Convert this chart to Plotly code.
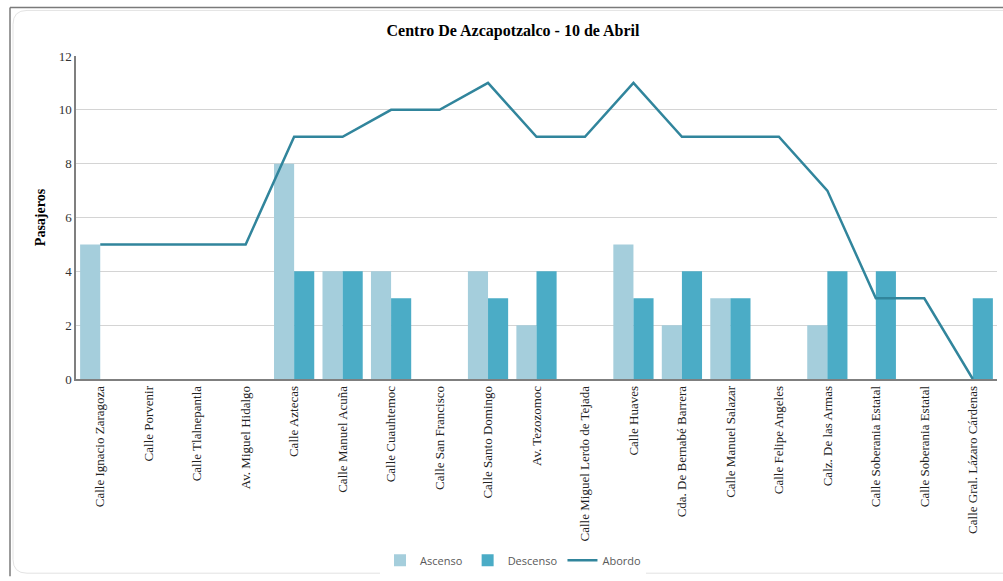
import plotly.graph_objects as go

paradas = ['Calle Ignacio Zaragoza', 'Calle Porvenir', 'Calle Tlalnepantla', 'Av. Miguel Hidalgo',
           'Calle Aztecas', 'Calle Manuel Acuña', 'Calle Cuauhtemoc', 'Calle San Francisco',
           'Calle Santo Domingo', 'Av. Tezozomoc', 'Calle Miguel Lerdo de Tejada', 'Calle Huaves',
           'Cda. De Bernabé Barrera', 'Calle Manuel Salazar', 'Calle Felipe Angeles', 'Calz. De las Armas',
           'Calle Soberania Estatal', 'Calle Soberania Estatal', 'Calle Gral. Lázaro Cárdenas']
ascenso = [5, 0, 0, 0, 8, 4, 4, 0, 4, 2, 0, 5, 2, 3, 0, 2, 0, 0, 0]
descenso = [0, 0, 0, 0, 4, 4, 3, 0, 3, 4, 0, 3, 4, 3, 0, 4, 4, 0, 3]
abordo = [5, 5, 5, 5, 9, 9, 10, 10, 11, 9, 9, 11, 9, 9, 9, 7, 3, 3, 0]
y_ticks = [0, 2, 4, 6, 8, 10, 12]

# numeric positions because one stop name repeats
pos = list(range(len(paradas)))

# plot box in pixels, used to put the frame lines in paper units
L, R, T, B = 76, 997, 56, 382
W, H = R - L, B - T


def px_x(v):
    return (v - L) / W


def px_y(v):
    return (B - v) / H


fig = go.Figure()
fig.add_trace(go.Bar(x=pos, y=ascenso, name='Ascenso', marker=dict(color='#a5cedc', line=dict(width=0))))
fig.add_trace(go.Bar(x=pos, y=descenso, name='Descenso', marker=dict(color='#4bacc6', line=dict(width=0))))
fig.add_trace(go.Scatter(x=pos, y=abordo, name='Abordo', mode='lines', line=dict(color='#31859c', width=2.5)))

serif = 'Liberation Serif, Times New Roman, serif'
fig.update_layout(
    width=1003, height=581,
    margin=dict(l=L, r=1003 - R, t=T, b=581 - B),
    paper_bgcolor='white', plot_bgcolor='white',
    barmode='group', bargap=0.17, bargroupgap=0,
    title=dict(text='<b>Centro De Azcapotzalco - 10 de Abril</b>', x=513 / 1003, xref='container', xanchor='center',
               y=1 - 30 / 581, yref='container', yanchor='middle', font=dict(family=serif, size=16, color='black')),
    font=dict(family=serif, size=13, color='#333333'),
    legend=dict(orientation='h', x=px_x(513), xanchor='center', y=px_y(565), yanchor='middle',
                font=dict(family='Open Sans, sans-serif', size=11, color='#595959'), traceorder='normal'),
    showlegend=True,
)
fig.update_xaxes(range=[-0.5, len(paradas) - 0.5], tickvals=pos, ticktext=paradas, tickangle=-90,
                 showgrid=False, showline=True, linecolor='#7f7f7f', linewidth=1.5, ticks='', ticklen=4,
                 tickfont=dict(family=serif, size=13, color='#222222'), zeroline=False)
fig.update_yaxes(range=[0, 12], tickvals=y_ticks, showgrid=True, gridcolor='#d4d4d4', gridwidth=1,
                 showline=True, linecolor='#7f7f7f', linewidth=1.5, ticks='', zeroline=False,
                 title=dict(text='<b>Pasajeros</b>', font=dict(family=serif, size=14, color='black'), standoff=10),
                 tickfont=dict(family=serif, size=13, color='#333333'))

# outer frame: dark lines on top and left, lighter rounded inner box
fig.add_shape(type='line', xref='paper', yref='paper', x0=px_x(10), x1=px_x(1003), y0=px_y(7), y1=px_y(7),
              line=dict(color='#7a7a7a', width=1.5))
fig.add_shape(type='line', xref='paper', yref='paper', x0=px_x(10), x1=px_x(10), y0=px_y(7), y1=px_y(581),
              line=dict(color='#7a7a7a', width=1.5))
x1, y1, x2, y2, r = px_x(13), px_y(10), px_x(1003), px_y(578), 14
rx, ry = r / W, r / H
path = (f'M {x2},{y1} L {x1 + rx},{y1} Q {x1},{y1} {x1},{y1 - ry} '
        f'L {x1},{y2 + ry} Q {x1},{y2} {x1 + rx},{y2} L {x2},{y2}')
fig.add_shape(type='path', xref='paper', yref='paper', path=path, line=dict(color='#e3e3e3', width=1))

fig.write_html('out.html', config={'displayModeBar': False},
               post_script="document.body.style.margin='0';document.body.style.overflow='hidden';")
